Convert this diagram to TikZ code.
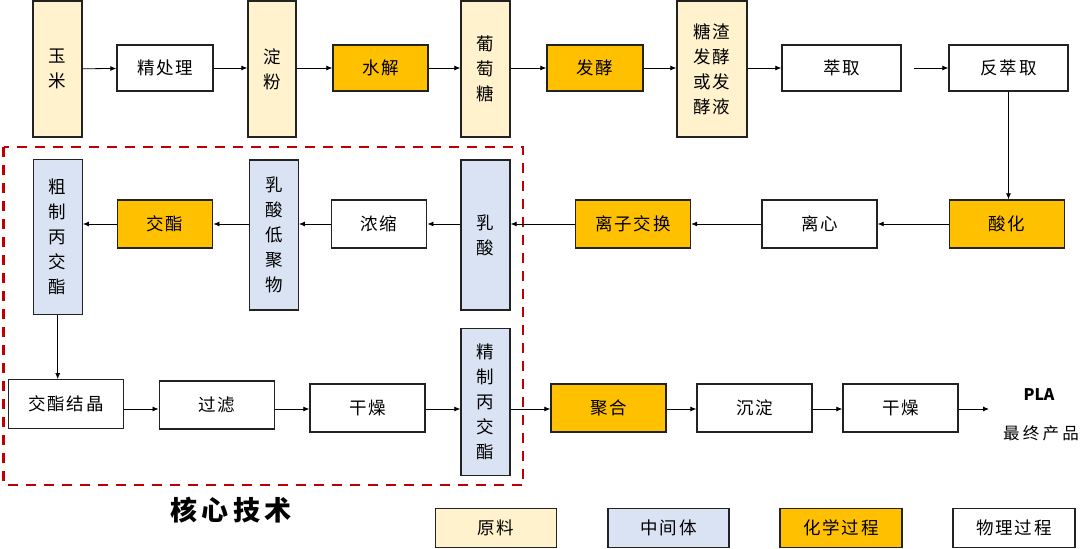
\documentclass[tikz,border=0pt]{standalone}
\usepackage{fontspec}
\usetikzlibrary{arrows.meta}
\newfontfamily\cjk[LetterSpace=10]{Noto Sans CJK SC}
\newfontfamily\cjkwide[LetterSpace=20]{Noto Sans CJK SC}
\newfontfamily\cjkplain{Noto Sans CJK SC}
\definecolor{cream}{HTML}{FFF2CC}
\definecolor{lblue}{HTML}{DAE3F3}
\definecolor{gold}{HTML}{FFC000}
\definecolor{dred}{HTML}{C00000}
\definecolor{edge}{HTML}{222222}
\tikzset{
  box/.style={draw=edge, line width=1.4pt, inner sep=0pt, align=center,
    font=\cjk\fontsize{17.5}{25}\selectfont, text=black},
  rawbox/.style={box, fill=cream},
  midbox/.style={box, fill=lblue},
  chembox/.style={box, fill=gold},
  physbox/.style={box, fill=white},
  hsize/.style 2 args={minimum width=#1pt, minimum height=#2pt},
  arr/.style={-{Latex[length=6pt,width=5pt]}, line width=0.8pt, draw=black},
  core/.style={draw=dred, line width=2.4pt, dash pattern=on 10pt off 8pt}
}
\begin{document}
\begin{tikzpicture}[x=1pt,y=-1pt]
\useasboundingbox (0,0) rectangle (1080,549);
% dashed core region
\draw[core] (3.5,147) rectangle (523,485);
% Row 1
\node[rawbox, hsize={49}{136}] (ym) at (57.5,69) {玉\\米};
\node[physbox, hsize={96}{46}] (jcl) at (165,68) {精处理};
\node[rawbox, hsize={48}{136}] (df) at (272,69) {淀\\粉};
\node[chembox, hsize={95}{46}] (sj) at (380.5,68) {水解};
\node[rawbox, hsize={49}{136}] (ptt) at (485.5,69) {葡\\萄\\糖};
\node[chembox, hsize={96}{46}] (fj) at (595,68) {发酵};
\node[rawbox, hsize={70}{136}] (tz) at (712,69) {糖渣\\发酵\\或发\\酵液};
\node[physbox, hsize={119}{46}] (cq) at (841.5,68) {萃取};
\node[physbox, hsize={119}{46}] (fcq) at (1008.5,68) {反萃取};
% Row 2
\node[midbox, hsize={49}{155}] (cz) at (57.7,237) {粗\\制\\丙\\交\\酯};
\node[chembox, hsize={95.5}{48}] (jz) at (165,224) {交酯};
\node[midbox, hsize={48.5}{150}] (dj) at (274,235) {乳\\酸\\低\\聚\\物};
\node[physbox, hsize={95.5}{48}] (ns) at (379,224) {浓缩};
\node[midbox, hsize={49}{150}] (rs) at (485.5,235) {乳\\酸};
\node[chembox, hsize={115}{48}] (lz) at (633,224) {离子交换};
\node[physbox, hsize={115}{48}] (lx) at (819.5,224) {离心};
\node[chembox, hsize={115.5}{48}] (sh) at (1007,224) {酸化};
% Row 3
\node[physbox, hsize={114.5}{48.5}] (jj) at (66,404) {交酯结晶};
\node[physbox, hsize={115.5}{48}] (gl) at (217,405) {过滤};
\node[physbox, hsize={115}{48}] (gz) at (367.5,408) {干燥};
\node[midbox, hsize={49}{147}] (jzb) at (485.5,402) {精\\制\\丙\\交\\酯};
\node[chembox, hsize={115}{48}] (jh) at (608.5,408) {聚合};
\node[physbox, hsize={115}{48}] (cd) at (754.5,408) {沉淀};
\node[physbox, hsize={115}{48}] (gz2) at (900.5,408) {干燥};
\coordinate (plaend) at (989,409);
\node[font=\cjkplain\bfseries\fontsize{16}{18}\selectfont, inner sep=0pt] (pla) at (1039,395) {PLA};
\node[font=\cjkwide\fontsize{16.5}{18}\selectfont, inner sep=0pt] (zzcp) at (1041,433) {最终产品};
% core label
\node[font=\cjkplain\bfseries\fontsize{27}{30}\selectfont, inner sep=0pt] (hx) at (231,510) {核\,心\,技\,术};
% Legend
\node[rawbox, hsize={121}{39}] (lg1) at (496,528) {原料};
\node[midbox, hsize={121}{39}] (lg2) at (668.5,528) {中间体};
\node[chembox, hsize={122}{39}] (lg3) at (841,528) {化学过程};
\node[physbox, hsize={122}{39}] (lg4) at (1014,528) {物理过程};
% Row 1 arrows
\draw[arr] (ym) -- (jcl);
\draw[arr] (jcl) -- (df.west |- jcl);
\draw[arr] (df.east |- sj) -- (sj);
\draw[arr] (sj) -- (ptt.west |- sj);
\draw[arr] (ptt.east |- fj) -- (fj);
\draw[arr] (fj) -- (tz.west |- fj);
\draw[arr] (tz.east |- cq) -- (cq);
\draw[arr, shorten <=12pt] (cq) -- (fcq);
\draw[arr] (fcq.south) -- (fcq.south |- sh.north);
% Row 2 arrows
\draw[arr] (sh) -- (lx);
\draw[arr] (lx) -- (lz);
\draw[arr] (lz) -- (rs.east |- lz);
\draw[arr] (rs.west |- ns) -- (ns);
\draw[arr] (ns) -- (dj.east |- ns);
\draw[arr] (dj.west |- jz) -- (jz);
\draw[arr] (jz) -- (cz.east |- jz);
% down to row 3
\draw[arr] (cz.south) -- (cz.south |- jj.north);
% Row 3 arrows
\coordinate (r3) at (0,409);
\draw[arr] (jj.east |- r3) -- (gl.west |- r3);
\draw[arr] (gl.east |- r3) -- (gz.west |- r3);
\draw[arr] (gz.east |- r3) -- (jzb.west |- r3);
\draw[arr] (jzb.east |- r3) -- (jh.west |- r3);
\draw[arr] (jh.east |- r3) -- (cd.west |- r3);
\draw[arr] (cd.east |- r3) -- (gz2.west |- r3);
\draw[arr] (gz2.east |- r3) -- (plaend);
\end{tikzpicture}
\end{document}
